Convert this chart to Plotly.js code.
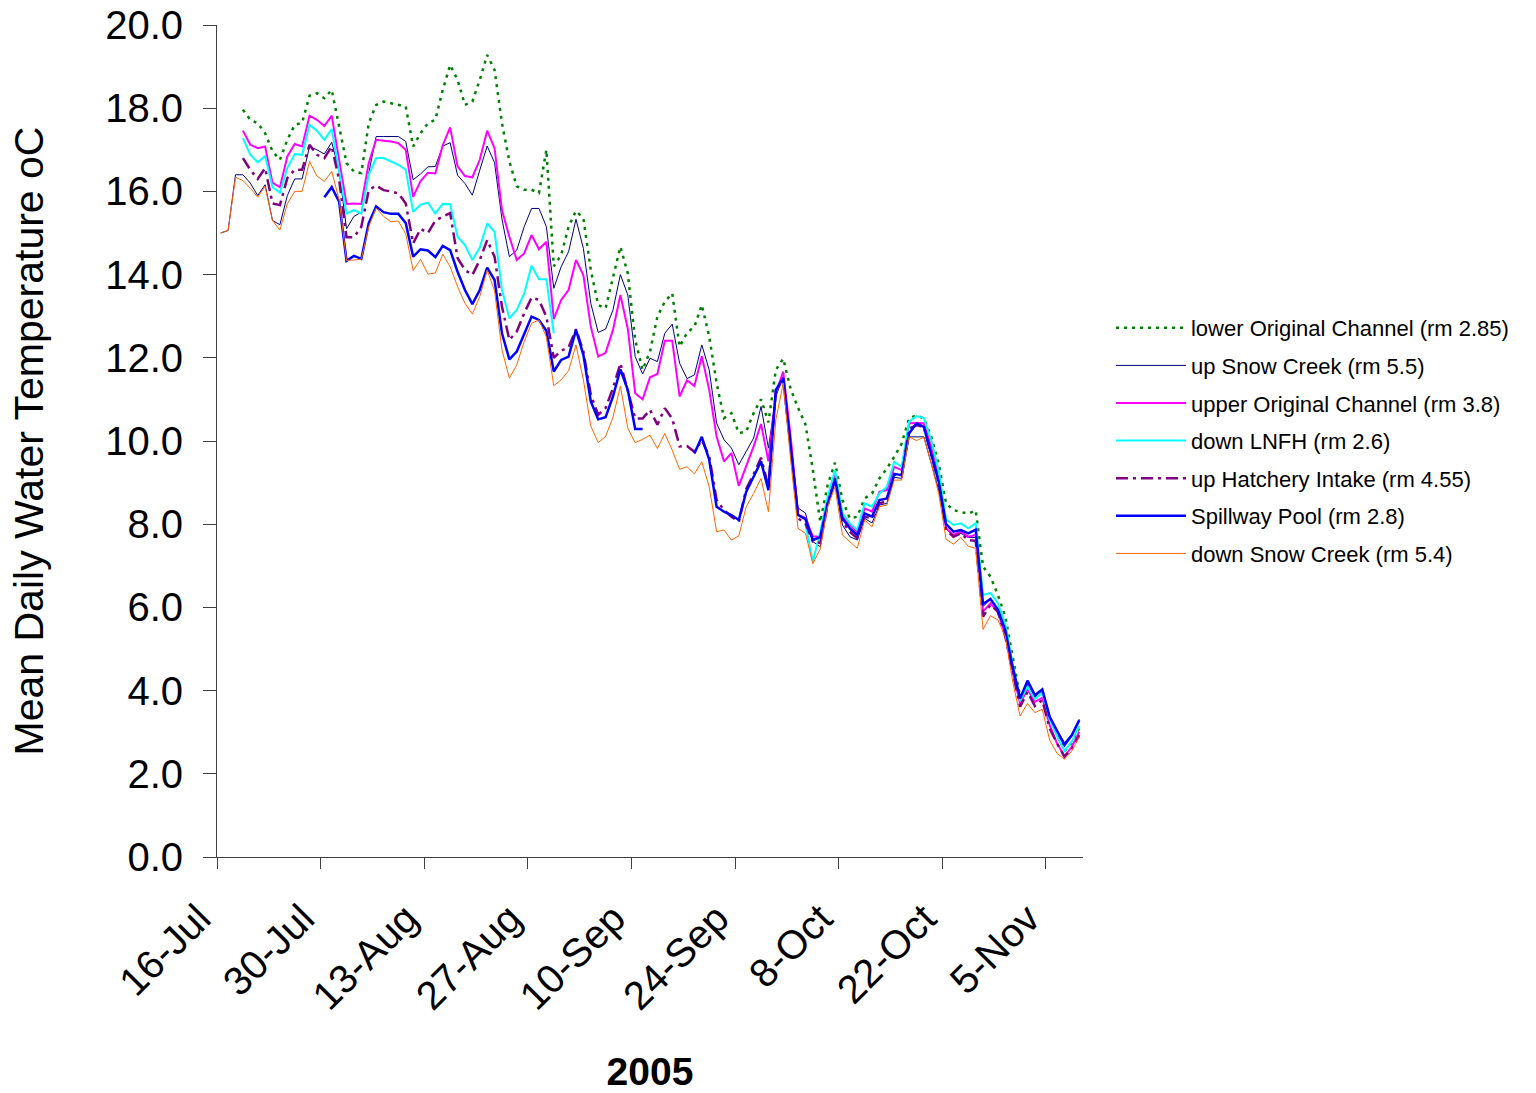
<!DOCTYPE html>
<html>
<head>
<meta charset="utf-8">
<script src="https://cdn.plot.ly/plotly-3.0.1.min.js"></script>
<style>
html,body{margin:0;padding:0;background:#fff;}
#chart{width:1536px;height:1093px;}
</style>
</head>
<body>
<div id="chart"></div>
<script>
// First day of the daily series (2005), one value per day through 9-Nov
const startYear = 2005, startMonth = 6, startDay = 16;

const seriesNames = [
  'lower Original Channel (rm 2.85)',
  'up Snow Creek (rm 5.5)',
  'upper Original Channel (rm 3.8)',
  'down LNFH (rm 2.6)',
  'up Hatchery Intake (rm 4.55)',
  'Spillway Pool (rm 2.8)',
  'down Snow Creek (rm 5.4)'
];

const lowerOriginalChannel = [null,null,null,
  17.96,17.72,17.64,17.4,16.96,16.76,17.24,
  17.6,17.65,18.3,18.36,18.24,18.44,17.56,16.68,16.48,16.44,
  17.64,18.08,18.16,18.12,18.08,18.04,17.08,17.4,17.64,17.72,
  18.44,19.04,18.68,18.08,18.16,18.68,19.28,18.92,17.64,16.72,
  16.12,16.04,16.04,15.96,17.0,14.2,14.47,15.15,15.53,15.35,
  14.11,13.27,13.19,13.95,14.67,14.03,12.43,11.71,12.15,12.99,
  13.35,13.55,12.27,12.6,12.75,13.27,12.51,11.39,10.55,10.67,
  10.19,10.23,10.67,11.0,10.45,11.71,11.98,11.25,10.8,10.4,
  9.31,8.05,8.94,9.48,8.58,8.14,8.18,8.62,8.74,9.1,
  9.34,9.62,9.94,10.54,10.62,10.54,10.1,9.46,8.5,8.34,
  8.3,8.25,8.33,6.98,6.74,6.3,5.78,4.85,3.85,4.1,
  3.85,3.95,3.35,2.95,2.55,2.75,3.1];

const upSnowCreek = [
  15.0,15.06,16.4,16.4,16.2,15.9,16.16,15.3,15.2,15.9,
  16.3,16.3,17.08,17.0,16.9,17.18,16.5,15.1,15.4,15.5,
  16.44,17.32,17.32,17.32,17.32,17.2,16.28,16.42,16.59,16.6,
  17.09,17.17,16.39,16.19,15.91,16.51,17.09,16.69,15.33,14.43,
  14.59,15.15,15.59,15.59,15.15,13.67,14.19,14.55,15.33,14.63,
  13.31,12.61,12.69,13.15,14.0,13.51,12.03,11.61,11.99,11.91,
  12.59,12.81,11.87,11.5,11.59,12.31,11.71,10.43,10.03,9.83,
  9.43,9.75,10.07,10.83,9.83,11.07,11.55,10.03,8.39,8.27,
  7.58,7.46,8.46,9.02,7.98,7.7,7.62,8.14,8.03,8.46,
  8.5,9.13,9.1,10.1,10.1,10.1,9.46,8.82,7.9,7.7,
  7.78,7.68,7.68,6.02,6.2,5.95,5.42,4.55,3.78,4.15,
  3.85,4.0,3.35,3.05,2.75,2.95,3.31];

const upperOriginalChannel = [null,null,null,
  17.46,17.12,17.04,17.08,16.21,16.1,16.84,
  17.14,17.08,17.82,17.72,17.57,17.82,16.8,15.7,15.71,15.7,
  16.68,17.24,17.22,17.2,17.16,17.0,15.87,16.25,16.45,16.43,
  17.11,17.54,16.6,16.37,16.34,16.76,17.46,17.04,15.55,14.91,
  14.35,14.51,14.95,14.61,14.79,12.93,13.39,13.63,14.35,13.99,
  12.75,12.03,12.12,12.67,13.51,12.7,11.15,11.0,11.53,11.61,
  12.41,12.41,11.07,11.46,11.32,12.04,11.23,10.11,9.51,9.71,
  8.92,9.39,9.87,10.41,9.51,11.15,11.67,10.11,8.23,8.15,
  7.71,7.7,8.54,9.18,8.18,7.98,7.82,8.38,8.3,8.78,
  8.82,9.38,9.3,10.42,10.44,10.42,9.86,9.1,7.9,7.74,
  7.82,7.7,7.74,5.9,6.1,5.88,5.35,4.45,3.69,4.03,
  3.73,3.83,3.17,2.73,2.43,2.65,3.01];

const downLNFH = [null,null,null,
  17.28,16.88,16.7,16.85,16.1,15.97,16.56,
  16.9,16.88,17.6,17.46,17.24,17.5,16.48,15.47,15.55,15.47,
  16.4,16.8,16.8,16.72,16.64,16.52,15.51,15.68,15.73,15.47,
  15.7,15.69,14.91,14.71,14.35,14.65,15.23,15.03,13.63,12.95,
  13.15,13.55,14.21,13.89,13.89,12.59,
  null,null,null,null,null,null,null,null,null,null,
  null,null,null,null,null,null,null,null,null,null,
  null,null,null,null,null,null,null,null,null,null,
  null,null,null,
  8.0,
  7.1,7.82,8.66,9.3,8.26,8.02,7.86,8.5,8.42,8.74,
  8.9,9.5,9.38,10.46,10.6,10.55,10.02,9.3,8.12,7.98,
  8.02,7.9,8.02,6.3,6.35,6.1,5.6,4.65,3.75,4.1,
  3.8,3.95,3.3,2.9,2.55,2.78,3.15];

const upHatcheryIntake = [null,null,null,
  16.8,16.52,16.3,16.56,15.71,15.67,16.32,
  16.52,16.52,17.12,16.88,16.8,17.08,16.28,14.9,14.9,15.15,
  16.03,16.14,16.03,16.0,15.95,15.71,14.75,15.1,15.0,15.3,
  15.4,15.48,14.4,14.11,13.99,14.35,14.83,14.43,13.23,12.43,
  12.63,13.07,13.45,13.39,12.99,12.0,12.17,12.25,12.69,12.15,
  11.11,10.63,10.79,11.27,11.87,11.23,10.54,10.54,10.75,10.39,
  10.79,10.54,9.87,9.88,9.74,10.02,9.63,8.58,8.34,8.18,
  8.06,8.85,9.2,9.6,8.9,11.2,11.5,9.9,8.14,8.02,
  7.58,7.55,8.45,9.1,8.06,7.82,7.66,8.18,8.14,8.5,
  8.55,9.2,9.15,10.3,10.38,10.34,9.7,9.0,7.86,7.7,
  7.78,7.62,7.6,5.78,6.06,5.9,5.3,4.41,3.61,3.97,
  3.63,3.77,3.09,2.73,2.41,2.61,2.93];

const spillwayPool = [null,null,null,null,null,null,null,null,null,null,
  null,null,null,null,
  15.86,16.1,15.75,14.33,14.45,14.38,
  15.24,15.64,15.5,15.46,15.46,15.24,14.43,14.61,14.58,14.42,
  14.69,14.59,14.07,13.63,13.29,13.63,14.17,13.87,12.59,11.96,
  12.15,12.59,12.99,12.91,12.65,11.67,11.95,12.03,12.67,12.07,
  10.95,10.52,10.57,11.07,11.72,11.23,10.29,10.29,
  null,null,null,null,null,null,
  9.7,10.1,9.55,8.42,8.3,8.22,
  8.1,8.78,9.14,9.51,8.82,11.23,11.51,9.87,8.22,8.12,
  7.62,7.69,8.5,9.06,8.14,7.9,7.74,8.26,8.18,8.58,
  8.62,9.21,9.18,10.18,10.42,10.34,9.7,9.02,8.0,7.82,
  7.86,7.78,7.87,6.08,6.2,5.95,5.45,4.57,3.81,4.24,
  3.89,4.03,3.37,3.01,2.69,2.93,3.29];

const downSnowCreek = [
  15.0,15.06,16.34,16.26,16.08,15.86,16.12,15.3,15.07,15.7,
  16.0,16.0,16.72,16.37,16.24,16.48,15.8,14.34,14.35,14.37,
  15.15,15.6,15.4,15.27,15.29,14.98,14.1,14.37,14.01,14.04,
  14.49,14.19,13.71,13.31,13.05,13.47,14.11,13.61,12.19,11.51,
  11.83,12.39,12.83,12.91,12.5,11.33,11.47,11.69,12.31,11.47,
  10.36,9.96,10.11,10.57,11.32,10.31,9.96,10.04,10.14,9.82,
  10.18,9.78,9.32,9.38,9.21,9.5,8.9,7.82,7.86,7.62,
  7.72,8.42,8.74,9.1,8.3,10.51,11.39,9.55,7.9,7.78,
  7.05,7.4,8.42,8.9,7.74,7.58,7.42,8.1,7.94,8.42,
  8.46,9.06,9.06,10.1,10.01,10.09,9.46,8.74,7.64,7.52,
  7.68,7.47,7.42,5.47,5.8,5.7,5.3,4.22,3.39,3.69,
  3.47,3.55,2.81,2.49,2.35,2.55,2.89];

// daily dates (each day plotted at mid-day, like a date axis "between tick marks")
const dates = downSnowCreek.map((_, i) => {
  const d = new Date(Date.UTC(startYear, startMonth, startDay + i, 12));
  return d.toISOString().slice(0, 10) + ' 12:00';
});

const allSeries = [lowerOriginalChannel, upSnowCreek, upperOriginalChannel, downLNFH,
                   upHatcheryIntake, spillwayPool, downSnowCreek];
const styles = [
  {color:'#008000', width:2.5, dash:'3px,5px'},
  {color:'#000080', width:1, dash:'solid'},
  {color:'#FF00FF', width:2, dash:'solid'},
  {color:'#00FFFF', width:2, dash:'solid'},
  {color:'#800080', width:2.5, dash:'12px,5px,3px,5px'},
  {color:'#0000FF', width:2.5, dash:'solid'},
  {color:'#FF6600', width:1, dash:'solid'}
];

const FONT = 'Liberation Sans, Arial, sans-serif';

const traces = allSeries.map((ys, k) => ({
  type: 'scatter',
  mode: 'lines',
  x: dates,
  y: ys,
  name: seriesNames[k],
  legendgroup: 'g' + k,
  line: styles[k],
  connectgaps: false,
  hoverinfo: 'x+y+name'
}));

const layout = {
  width: 1536,
  height: 1093,
  margin: {l: 217, r: 453, t: 25, b: 236, pad: 0},
  paper_bgcolor: '#ffffff',
  plot_bgcolor: '#ffffff',
  font: {family: FONT, color: '#000000'},
  showlegend: true,
  legend: {
    x: 1.0323, xanchor: 'left',
    y: 0.5, yanchor: 'middle',
    font: {family: FONT, size: 22, color: '#000'},
    itemwidth: 70,
    tracegroupgap: 6,
    bgcolor: 'rgba(0,0,0,0)',
    borderwidth: 0
  },
  xaxis: {
    type: 'date',
    range: ['2005-07-16', '2005-11-10'],
    tick0: '2005-07-16',
    dtick: 14 * 24 * 3600 * 1000,
    tickformat: '%-d-%b',
    tickangle: -45,
    ticks: 'outside',
    ticklen: 11,
    tickwidth: 1,
    tickcolor: '#404040',
    ticklabelstandoff: 10,
    ticklabelshift: -18,
    showline: true,
    linecolor: '#404040',
    linewidth: 1,
    showgrid: false,
    zeroline: false,
    tickfont: {family: FONT, size: 40, color: '#000'},
    title: {text: '<b>2005</b>', font: {family: FONT, size: 39, color: '#000'}, standoff: 40}
  },
  yaxis: {
    range: [0, 20],
    dtick: 2,
    tick0: 0,
    tickformat: '.1f',
    ticks: 'outside',
    ticklen: 13,
    tickwidth: 1,
    tickcolor: '#404040',
    ticklabelstandoff: 12,
    showline: true,
    linecolor: '#404040',
    linewidth: 1,
    showgrid: false,
    zeroline: false,
    tickfont: {family: FONT, size: 40, color: '#000'},
    title: {text: 'Mean Daily Water Temperature oC', font: {family: FONT, size: 41, color: '#000'}, standoff: 48}
  }
};

Plotly.newPlot('chart', traces, layout, {displayModeBar: false, staticPlot: true});
</script>
</body>
</html>
